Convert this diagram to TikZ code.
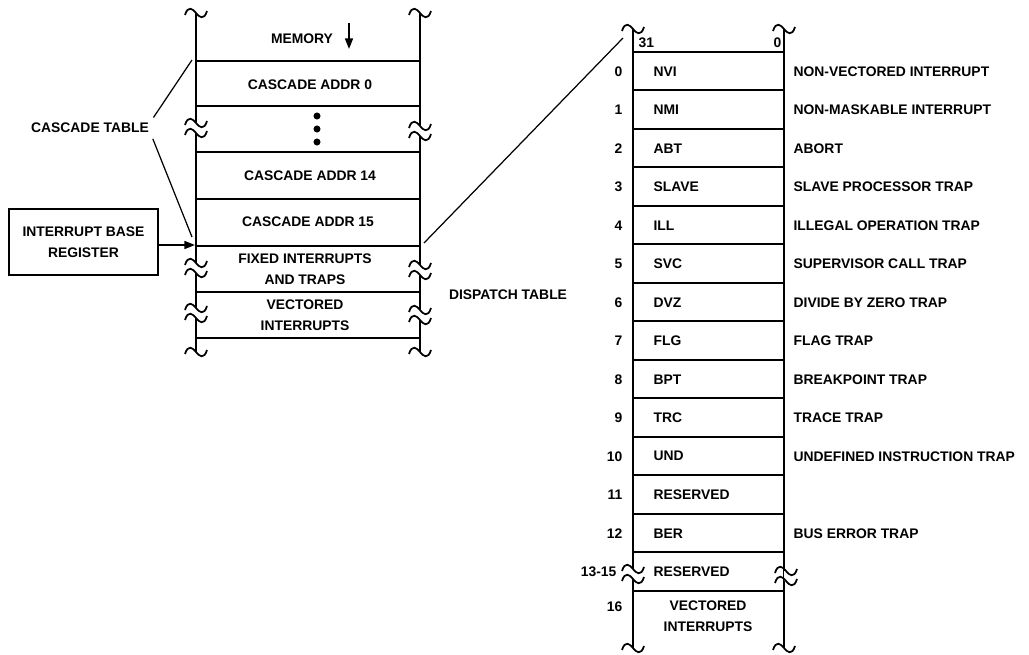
\documentclass[tikz,border=0pt]{standalone}
\usepackage{fontspec}
\setmainfont{Liberation Sans}
\usepackage{tikz}
\usetikzlibrary{arrows.meta}

\tikzset{
    lbl/.style={font=\fontsize{7.9}{12}\selectfont\bfseries, inner sep=1pt},
    regbox/.style={lbl, draw, line width=1pt, align=center, minimum width=2.98cm, minimum height=1.32cm},
    lead/.style={line width=0.7pt},
    tld/.pic={\draw (-11,2) .. controls (-8,-8) and (-3,-4) .. (0,0) .. controls (3,4) and (8,8) .. (11,-2);},
    brk/.pic={\fill[white] (-2.5,-5) rectangle (2.5,5);
              \pic at (0,-5) {tld};
              \pic at (0,5) {tld};},
    >={Triangle[length=6pt,width=4.5pt]}
}

\begin{document}
\begin{tikzpicture}[x=0.02cm, y=-0.02cm, line width=1pt]
    \useasboundingbox (0,0) rectangle (1029,655);

    % Memory column
    \draw (196,13) -- (196,352);
    \draw (420,13) -- (420,352);
    \foreach \y in {61,106,152,199,246,292,338} \draw (196,\y) -- (420,\y);
    \foreach \x in {196,420} {
        \pic at (\x,13) {tld};
        \pic at (\x,352) {tld};
    }
    \pic at (196,128) {brk};
    \pic at (420,131) {brk};
    \pic at (196,268) {brk};
    \pic at (420,270) {brk};
    \pic at (196,313) {brk};
    \pic at (420,315) {brk};

    \node[lbl] (mem) at (302,39) {MEMORY};
    \draw[->] (349,23) -- (349,49);
    \node[lbl] (ca0) at (310,85) {CASCADE ADDR 0};
    \foreach \y in {116,129,142} \fill (317,\y) circle (2pt);
    \node[lbl] (ca14) at (310,176) {CASCADE ADDR 14};
    \node[lbl] (ca15) at (308,222) {CASCADE ADDR 15};
    \node[lbl, align=center] (fix) at (305,269) {FIXED INTERRUPTS\\AND TRAPS};
    \node[lbl, align=center] (vec) at (305,315) {VECTORED\\INTERRUPTS};

    % Cascade table and base register
    \node[lbl] (ct) at (90,128) {CASCADE TABLE};
    \coordinate (ctop) at (192,60);
    \coordinate (cbot) at (192,237);
    \draw[lead, shorten <=2pt] (ct.north east) -- (ctop);
    \draw[lead, shorten <=2pt] (ct.south east) -- (cbot);

    \node[regbox] (ibr) at (83.5,242) {INTERRUPT BASE\\REGISTER};
    \coordinate (ibase) at (195,245);
    \draw[->] (ibr.east |- ibase) -- (ibase);

    % Dispatch table
    \node[lbl] (dt) at (508,295) {DISPATCH TABLE};
    \coordinate (fixr) at (424,243);
    \coordinate (dtl) at (623,38);
    \draw[lead] (fixr) -- (dtl);

    \draw (633,29) -- (633,648);
    \draw (784,29) -- (784,648);
    \foreach \k in {0,...,14} \draw (633,{int(52+38.5*\k)}) -- (784,{int(52+38.5*\k)});
    \foreach \x in {633,784} {
        \pic at (\x,29) {tld};
        \pic at (\x,648) {tld};
    }
    \pic at (633,574) {brk};
    \pic at (786,576) {brk};

    \node[lbl, anchor=west] (b31) at (636,43) {31};
    \node[lbl, anchor=east] (b0) at (784,43) {0};

    \foreach \i/\m in {0/NVI,1/NMI,2/ABT,3/SLAVE,4/ILL,5/SVC,6/DVZ,7/FLG,8/BPT,9/TRC,10/UND,11/RESERVED,12/BER} {
        \node[lbl, anchor=east] (n\i) at (625,{71.25+38.5*\i}) {\i};
        \node[lbl, anchor=west] (m\i) at (651,{71.25+38.5*\i}) {\m};
    }
    \foreach \i/\d in {0/NON-VECTORED INTERRUPT,1/NON-MASKABLE INTERRUPT,2/ABORT,
                       3/SLAVE PROCESSOR TRAP,4/ILLEGAL OPERATION TRAP,5/SUPERVISOR CALL TRAP,
                       6/DIVIDE BY ZERO TRAP,7/FLAG TRAP,8/BREAKPOINT TRAP,9/TRACE TRAP,
                       10/UNDEFINED INSTRUCTION TRAP,12/BUS ERROR TRAP}
        \node[lbl, anchor=west] (d\i) at (791,{71.25+38.5*\i}) {\d};

    \node[lbl, anchor=east] (n13) at (619,572) {13-15};
    \node[lbl, anchor=west] (m13) at (651,572) {RESERVED};
    \node[lbl, anchor=east] (n16) at (625,607) {16};
    \node[lbl, align=center] (m16) at (708,616) {VECTORED\\INTERRUPTS};
\end{tikzpicture}
\end{document}
